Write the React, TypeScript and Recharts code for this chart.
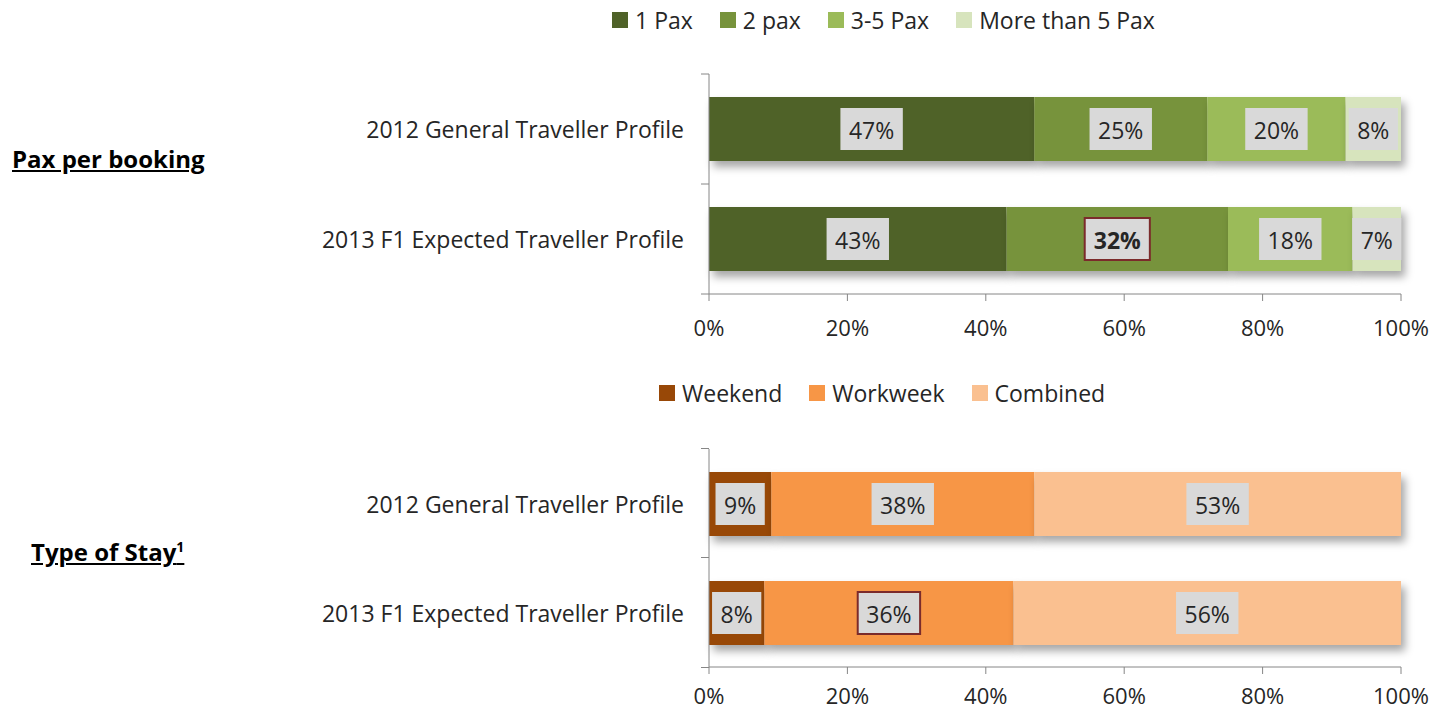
import React from "react"
import { BarChart, Bar, XAxis, YAxis, LabelList } from "recharts"

// categories (rows of both charts)
const categories = ["2012 General Traveller Profile", "2013 F1 Expected Traveller Profile"]

// pax per booking, % of bookings
const paxSeries = ["1 Pax", "2 pax", "3-5 Pax", "More than 5 Pax"]
const paxColors = ["#4F6228", "#77933C", "#9BBB59", "#D7E4BD"]
const pax1 = [47, 43]
const pax2 = [25, 32]
const pax35 = [20, 18]
const paxMore = [8, 7]

// type of stay, % of bookings
const staySeries = ["Weekend", "Workweek", "Combined"]
const stayColors = ["#984807", "#F79646", "#FAC090"]
const weekend = [9, 8]
const workweek = [38, 36]
const combined = [53, 56]

const xTicks = [0, 20, 40, 60, 80, 100]

// boxed labels with a dark red border
const paxHighlight = { row: 1, series: "2 pax", bold: true }
const stayHighlight = { row: 1, series: "Workweek", bold: false }

const paxValues = [pax1, pax2, pax35, paxMore]
const stayValues = [weekend, workweek, combined]

const paxData = categories.map((name, i) => {
  const row: any = { name }
  paxSeries.forEach((s, j) => (row["s" + j] = paxValues[j][i]))
  return row
})
const stayData = categories.map((name, i) => {
  const row: any = { name }
  staySeries.forEach((s, j) => (row["s" + j] = stayValues[j][i]))
  return row
})

const FONT = "'Open Sans', sans-serif"
const TEXT = "#262626"
const AXIS = "#868686"
const PLOT_LEFT = 709
const PLOT_TOP = 74
const PLOT_H = 220

function boxLabel(highlight: any, seriesName: string) {
  return (props: any) => {
    const vb = props.viewBox || props
    const x = Number(props.x ?? vb.x)
    const y = Number(props.y ?? vb.y)
    const w = Number(props.width ?? vb.width)
    const h = Number(props.height ?? vb.height)
    const value = props.value
    const isHi = highlight.series === seriesName && props.index === highlight.row
    const bold = isHi && highlight.bold
    const fs = 23
    const digits = String(value).length
    const tw = (digits * 0.572 * fs + 0.83 * fs) * (bold ? 1.06 : 1)
    const bw = tw + 17
    const bh = 42
    const cx = x + w / 2
    const cy = y + h / 2
    return (
      <g>
        <rect
          x={cx - bw / 2}
          y={cy - bh / 2}
          width={bw}
          height={bh}
          fill="#D9D9D9"
          stroke={isHi ? "#7B2B2B" : "none"}
          strokeWidth={isHi ? 2 : 0}
        />
        <text
          x={cx}
          y={cy + 1}
          textAnchor="middle"
          dominantBaseline="central"
          fontFamily={FONT}
          fontSize={fs}
          fontWeight={bold ? 700 : 400}
          fill={TEXT}
        >
          {value + "%"}
        </text>
      </g>
    )
  }
}

const shadowShape = (props: any) => {
  const { x, y, width, height, fill } = props
  return (
    <rect
      x={x}
      y={y}
      width={width}
      height={height}
      fill={fill}
      style={{ filter: "drop-shadow(4px 6px 4px rgba(0,0,0,0.35))" }}
    />
  )
}

const CategoryTick = (props: any) => {
  const { y, payload, index } = props
  const band = PLOT_H / categories.length
  return (
    <g>
      <line x1={PLOT_LEFT - 8} x2={PLOT_LEFT} y1={y - band / 2} y2={y - band / 2} stroke={AXIS} />
      {index === categories.length - 1 && (
        <line x1={PLOT_LEFT - 8} x2={PLOT_LEFT} y1={y + band / 2} y2={y + band / 2} stroke={AXIS} />
      )}
      <text
        x={PLOT_LEFT - 25}
        y={y}
        textAnchor="end"
        dominantBaseline="central"
        fontFamily={FONT}
        fontSize={23}
        fill={TEXT}
      >
        {payload.value}
      </text>
    </g>
  )
}

function Legend({ names, colors, left, top }: any) {
  return (
    <div
      style={{
        position: "absolute",
        left,
        top,
        display: "flex",
        alignItems: "center",
        gap: 27,
        fontFamily: FONT,
        fontSize: 23,
        color: TEXT,
        whiteSpace: "nowrap",
      }}
    >
      {names.map((n: string, i: number) => (
        <div key={n} style={{ display: "flex", alignItems: "center" }}>
          <span style={{ width: 16, height: 16, background: colors[i], marginRight: 7 }} />
          <span>{n}</span>
        </div>
      ))}
    </div>
  )
}

function StackChart({ data, series, colors, highlight, height, xHeight, tickMargin }: any) {
  return (
    <BarChart
      width={1439}
      height={height}
      data={data}
      layout="vertical"
      margin={{ top: PLOT_TOP, right: 38, bottom: 0, left: 0 }}
      barSize={64}
    >
      <XAxis
        type="number"
        domain={[0, 100]}
        ticks={xTicks}
        tickFormatter={(v: number) => v + "%"}
        height={xHeight}
        axisLine={{ stroke: AXIS }}
        tickLine={{ stroke: AXIS }}
        tickSize={7}
        tickMargin={tickMargin}
        tick={{ fontFamily: FONT, fontSize: 22, fill: TEXT }}
        interval={0}
      />
      <YAxis
        type="category"
        dataKey="name"
        width={PLOT_LEFT}
        axisLine={{ stroke: AXIS }}
        tickLine={false}
        tick={<CategoryTick />}
        interval={0}
      />
      {series.map((s: string, j: number) => (
        <Bar
          key={s}
          dataKey={"s" + j}
          name={s}
          stackId="a"
          fill={colors[j]}
          shape={shadowShape}
          isAnimationActive={false}
        >
          <LabelList dataKey={"s" + j} content={boxLabel(highlight, s)} />
        </Bar>
      ))}
    </BarChart>
  )
}

const titleStyle: any = {
  position: "absolute",
  fontFamily: FONT,
  fontWeight: 700,
  fontSize: 24,
  textDecoration: "underline",
  color: "#000",
  whiteSpace: "nowrap",
}

export default function App() {
  return (
    <div
      style={{
        position: "absolute",
        left: 0,
        top: 0,
        width: 1439,
        height: 712,
        background: "#fff",
        overflow: "hidden",
      }}
    >
      <div style={{ position: "absolute", left: 0, top: 0 }}>
        <StackChart
          data={paxData}
          series={paxSeries}
          colors={paxColors}
          highlight={paxHighlight}
          height={360}
          xHeight={66}
          tickMargin={19}
        />
      </div>
      <div style={{ position: "absolute", left: 0, top: 375 }}>
        <StackChart
          data={stayData}
          series={staySeries}
          colors={stayColors}
          highlight={stayHighlight}
          height={337}
          xHeight={45}
          tickMargin={14}
        />
      </div>
      <Legend names={paxSeries} colors={paxColors} left={612} top={4} />
      <Legend names={staySeries} colors={stayColors} left={659} top={377} />
      <div style={{ ...titleStyle, left: 12, top: 142 }}>Pax per booking</div>
      <div style={{ ...titleStyle, left: 31, top: 535 }}>
        Type of Stay<sup style={{ fontSize: 14 }}>1</sup>
      </div>
    </div>
  )
}
